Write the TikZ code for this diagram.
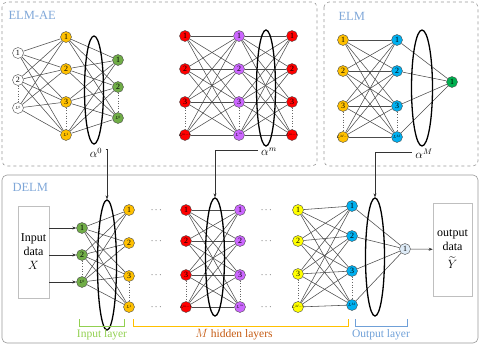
\documentclass[tikz,border=0pt]{standalone}
\usepackage{amsmath}
\usepackage{graphicx}
\usepackage{xcolor}
\usepackage{fontspec}
\setmainfont{Liberation Serif}
\usepackage{tikz}
\usetikzlibrary{shapes.geometric,arrows.meta}

\definecolor{goldn}{HTML}{FFC000}
\definecolor{leafn}{HTML}{70AD47}
\definecolor{darkgreenn}{HTML}{00B050}
\definecolor{redn}{HTML}{FF0000}
\definecolor{purplen}{HTML}{CC66FF}
\definecolor{yellown}{HTML}{FFFF00}
\definecolor{bluen}{HTML}{00B0F0}
\definecolor{paleblue}{HTML}{DEEBF7}
\definecolor{paneltext}{HTML}{7FA7D8}
\definecolor{inlayer}{HTML}{92D050}
\definecolor{hidlayer}{HTML}{C55A11}
\definecolor{outlayer}{HTML}{6FA0D8}

\newcommand{\Lsup}[1]{\makebox[0pt][c]{\scalebox{0.55}{$L^{#1}$}}}

\tikzset{
    neuron/.style={circle, draw=black!70, line width=0.4pt, minimum size=11pt,
        inner sep=0pt, font=\fontsize{8}{8}\selectfont},
    link/.style={black!70, line width=0.55pt},
    weights/.style={ellipse, draw=black, line width=1.3pt, minimum width=19pt, inner sep=0pt},
    vdots/.style={black!60, dotted, line width=0.6pt},
    panel/.style={draw=black!40, dashed, line width=0.6pt, rounded corners=5pt},
    paneltitle/.style={anchor=west, text=paneltext, font=\fontsize{12.5}{14}\selectfont},
    iobox/.style={draw=black!25, line width=0.6pt, align=center, inner sep=0pt,
        font=\fontsize{12}{14}\selectfont},
    feed/.style={-{Stealth[length=4pt,width=3pt]}, black!80, line width=0.5pt},
    brace/.style={line width=0.8pt},
    bracelabel/.style={font=\fontsize{11.5}{12}\selectfont},
    alphalabel/.style={font=\fontsize{12}{12}\selectfont}
}

\begin{document}
\begin{tikzpicture}[x=1pt, y=-1pt]
    \useasboundingbox (0,0) rectangle (480,346);

    % Panels
    \draw[panel] (2,2) rectangle (317,166);
    \draw[panel] (324,2) rectangle (478,166);
    \draw[draw=black!40, line width=0.6pt, rounded corners=5pt] (2,175) rectangle (478,343);
    \node[paneltitle] (t-ae) at (5,15) {ELM-AE};
    \node[paneltitle] (t-elm) at (335,16) {ELM};
    \node[paneltitle] (t-delm) at (9,187) {DELM};

    % ELM-AE layers
    \foreach \y/\t [count=\i] in {53/1,80/2,108/{\Lsup{0}}}
        \node[neuron, fill=white] (aein\i) at (18,\y) {\t};
    \foreach \y/\t [count=\i] in {37/1,69/2,102/3,135/{\Lsup{1}}}
        \node[neuron, fill=goldn] (aeh\i) at (66,\y) {\t};
    \foreach \y/\t [count=\i] in {60/1,87/2,118/{\Lsup{0}}}
        \node[neuron, fill=leafn] (aeout\i) at (118,\y) {\t};
    \foreach \i in {1,...,3}
        \foreach \j in {1,...,4}
            \draw[link] (aein\i) -- (aeh\j);
    \foreach \i in {1,...,4}
        \foreach \j in {1,...,3}
            \draw[link] (aeh\i) -- (aeout\j);
    \draw[vdots] (aein2) -- (aein3);
    \draw[vdots] (aeh3) -- (aeh4);
    \draw[vdots] (aeout2) -- (aeout3);
    \node[weights, minimum height=108pt] (aew) at (94,90) {};
    \node[alphalabel] (alpha0) at (96,153) {$\alpha^{0}$};

    % m-th ELM-AE layers
    \foreach \y/\t [count=\i] in {36/1,69/2,102/3,135/{\Lsup{m-1}}}
        \node[neuron, fill=redn] (min\i) at (185,\y) {\t};
    \foreach \y/\t [count=\i] in {36/1,69/2,102/3,135/{\Lsup{m}}}
        \node[neuron, fill=purplen] (mh\i) at (239,\y) {\t};
    \foreach \y/\t [count=\i] in {36/1,69/2,102/3,135/{\Lsup{m-1}}}
        \node[neuron, fill=redn] (mout\i) at (292,\y) {\t};
    \foreach \i in {1,...,4}
        \foreach \j in {1,...,4}
        {
            \draw[link] (min\i) -- (mh\j);
            \draw[link] (mh\i) -- (mout\j);
        }
    \draw[vdots] (min3) -- (min4);
    \draw[vdots] (mh3) -- (mh4);
    \draw[vdots] (mout3) -- (mout4);
    \node[weights, minimum height=116pt] (mw) at (266,88) {};
    \node[alphalabel] (alpham) at (269,152) {$\alpha^{m}$};

    % ELM layers
    \foreach \y/\t [count=\i] in {40/1,71/2,106/3,137/{\Lsup{M-1}}}
        \node[neuron, fill=goldn] (ein\i) at (343,\y) {\t};
    \foreach \y/\t [count=\i] in {40/1,71/2,106/3,137/{\Lsup{M}}}
        \node[neuron, fill=bluen] (eh\i) at (397,\y) {\t};
    \node[neuron, fill=darkgreenn] (eout) at (452,82) {1};
    \foreach \i in {1,...,4}
    {
        \foreach \j in {1,...,4}
            \draw[link] (ein\i) -- (eh\j);
        \draw[link] (eh\i) -- (eout);
    }
    \draw[vdots] (ein3) -- (ein4);
    \draw[vdots] (eh3) -- (eh4);
    \node[weights, minimum height=116pt, minimum width=21pt] (ew) at (422,88) {};
    \node[alphalabel] (alphaM) at (424,154) {$\alpha^{M}$};

    % DELM: input and output data
    \node[iobox, minimum width=31pt, minimum height=92pt] (xin) at (33.5,252) {Input\\data\\$X$};
    \node[iobox, minimum width=39pt, minimum height=93pt] (yout) at (452.5,249.5)
        {output\\data\\[4pt]$\widetilde{Y}$};

    % DELM layers
    \foreach \y/\t [count=\i] in {228/1,255/2,282/{\Lsup{0}}}
        \node[neuron, fill=leafn] (din\i) at (82,\y) {\t};
    \foreach \y/\t [count=\i] in {210/1,243/2,276/3,307/{\Lsup{1}}}
        \node[neuron, fill=goldn] (dh\i) at (129,\y) {\t};
    \foreach \y/\t [count=\i] in {210/1,241/2,275/3,307/{\Lsup{m-1}}}
        \node[neuron, fill=redn] (dr\i) at (186,\y) {\t};
    \foreach \y/\t [count=\i] in {210/1,241/2,275/3,307/{\Lsup{m}}}
        \node[neuron, fill=purplen] (dp\i) at (240,\y) {\t};
    \foreach \y/\t [count=\i] in {210/1,241/2,274/3,307/{\Lsup{M-1}}}
        \node[neuron, fill=yellown] (dy\i) at (298,\y) {\t};
    \foreach \y/\t [count=\i] in {206/1,236/2,271/3,305/{\Lsup{M}}}
        \node[neuron, fill=bluen] (db\i) at (352,\y) {\t};
    \node[neuron, fill=paleblue] (dout) at (405,249) {1};

    % DELM links
    \foreach \i in {1,...,3}
    {
        \draw[feed] (xin.east |- din\i) -- (din\i);
        \foreach \j in {1,...,4}
            \draw[link] (din\i) -- (dh\j);
    }
    \foreach \i in {1,...,4}
    {
        \foreach \j in {1,...,4}
        {
            \draw[link] (dr\i) -- (dp\j);
            \draw[link] (dy\i) -- (db\j);
        }
        \draw[link] (db\i) -- (dout);
    }
    \draw[feed] (dout) -- (yout);
    \draw[vdots] (din2) -- (din3);
    \draw[vdots] (dh3) -- (dh4);
    \draw[vdots] (dr3) -- (dr4);
    \draw[vdots] (dp3) -- (dp4);
    \draw[vdots] (dy3) -- (dy4);
    \draw[vdots] (db3) -- (db4);

    % Dots between layers
    \foreach \y [count=\i] in {210,241,275,307}
    {
        \node[font=\small] (dotsa\i) at (157,\y) {$\cdots$};
        \node[font=\small] (dotsb\i) at (267,\y) {$\cdots$};
    }

    % DELM weight ellipses
    \node[weights, minimum height=130pt] (dw0) at (107,265) {};
    \node[weights, minimum height=118pt] (dwm) at (215,257) {};
    \node[weights, minimum height=118pt] (dwM) at (375,257) {};

    % Output weights passed down
    \draw[feed] ([yshift=4pt]alpha0.east) -| (dw0.north);
    \draw[feed] ([yshift=2pt]alpham.west) -| (dwm.north);
    \draw[feed] ([yshift=2pt]alphaM.west) -| (dwM.north);

    % Layer brackets
    \draw[brace, inlayer] (79,319) -- (79,326) -- (124,326) -- (124,319);
    \draw[brace, goldn] (133,319) -- (133,326) -- (348,326) -- (348,319);
    \draw[brace, outlayer] (355,319) -- (355,326) -- (407,326) -- (407,319);
    \node[bracelabel, text=inlayer] (lin) at (102,335) {Input layer};
    \node[bracelabel, text=hidlayer] (lhid) at (234,335) {$M$ hidden layers};
    \node[bracelabel, text=outlayer] (lout) at (381,335) {Output layer};
\end{tikzpicture}
\end{document}
